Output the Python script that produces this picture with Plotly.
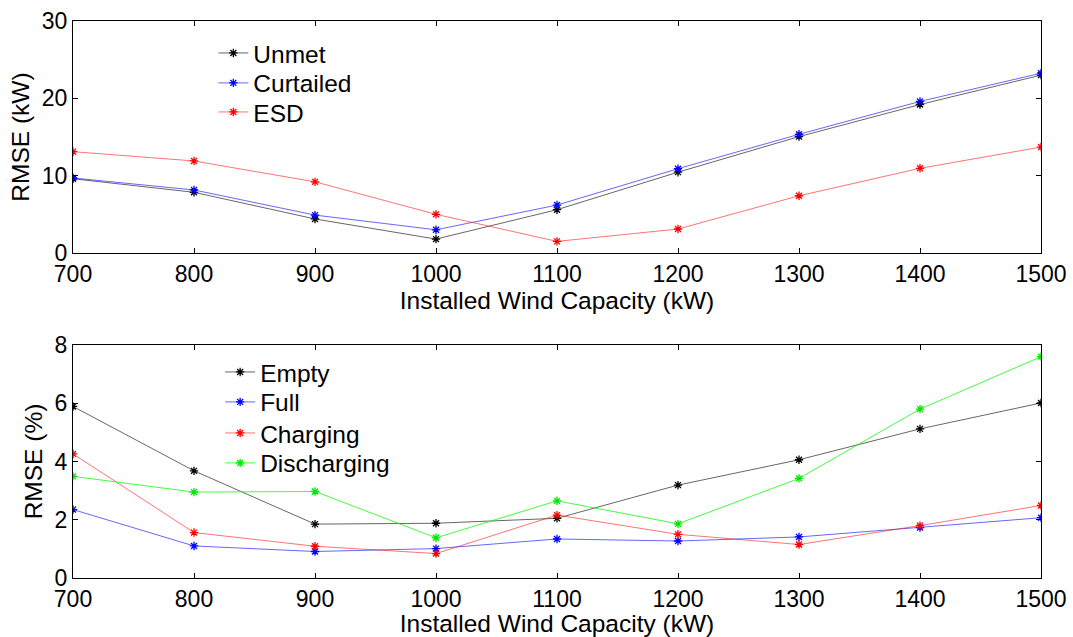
import plotly.graph_objects as go

# Installed wind capacity (kW)
capacity = [700, 800, 900, 1000, 1100, 1200, 1300, 1400, 1500]

# RMSE of power flows (kW)
unmet = [9.6, 7.85, 4.4, 1.8, 5.6, 10.45, 15.05, 19.2, 23.0]
curtailed = [9.7, 8.15, 4.9, 3.0, 6.2, 10.9, 15.35, 19.6, 23.25]
esd = [13.1, 11.9, 9.2, 5.0, 1.5, 3.1, 7.4, 10.95, 13.7]

# RMSE of storage states (%)
empty = [5.89, 3.68, 1.85, 1.88, 2.05, 3.19, 4.06, 5.12, 6.01]
full = [2.35, 1.10, 0.91, 1.01, 1.34, 1.27, 1.41, 1.73, 2.07]
charging = [4.26, 1.56, 1.09, 0.84, 2.16, 1.50, 1.15, 1.80, 2.49]
discharging = [3.49, 2.95, 2.97, 1.38, 2.65, 1.86, 3.42, 5.80, 7.60]

x_ticks = [700, 800, 900, 1000, 1100, 1200, 1300, 1400, 1500]

FONT = "Liberation Sans, Arial, sans-serif"
TICK_FS = 23
TEXT_FS = 24.5

colors = {
    "k": ("rgb(0,0,0)", "rgba(0,0,0,0.6)"),
    "b": ("rgb(0,0,255)", "rgba(0,0,255,0.6)"),
    "r": ("rgb(255,0,0)", "rgba(255,0,0,0.55)"),
    "g": ("rgb(0,230,0)", "rgba(0,255,0,0.75)"),
}

fig = go.Figure()
legends = {}


def add_series(name, values, c, xa, ya, legend, lx, ly):
    mk, ln = colors[c]
    fig.add_trace(go.Scatter(
        x=capacity, y=values, name=name, mode="lines+markers",
        line=dict(color=ln, width=1),
        marker=dict(symbol="asterisk-open", size=7, color=mk,
                    line=dict(color=mk, width=1.3)),
        xaxis=xa, yaxis=ya, legend=legend,
    ))
    # one legend box per entry so rows sit on a tight pitch
    legends[legend] = dict(
        x=lx, y=ly, xanchor="left", yanchor="middle",
        bgcolor="rgba(255,255,255,0)", borderwidth=0,
        font=dict(family=FONT, size=TEXT_FS, color="black"),
        itemwidth=30, tracegroupgap=0,
    )


add_series("Unmet", unmet, "k", "x", "y", "legend", 0.145, 0.9425)
add_series("Curtailed", curtailed, "b", "x", "y", "legend2", 0.145, 0.8887)
add_series("ESD", esd, "r", "x", "y", "legend3", 0.145, 0.8366)

add_series("Empty", empty, "k", "x2", "y2", "legend4", 0.152, 0.3698)
add_series("Full", full, "b", "x2", "y2", "legend5", 0.152, 0.3160)
add_series("Charging", charging, "r", "x2", "y2", "legend6", 0.152, 0.2603)
add_series("Discharging", discharging, "g", "x2", "y2", "legend7", 0.152, 0.2065)

axis_common = dict(
    showline=True, linecolor="black", linewidth=1, mirror="ticks",
    ticks="inside", ticklen=5, tickcolor="black", tickwidth=1,
    showgrid=False, zeroline=False,
    tickfont=dict(family=FONT, size=TICK_FS, color="black"),
)

xtitle = dict(text="Installed Wind Capacity (kW)",
              font=dict(family=FONT, size=TEXT_FS, color="black"), standoff=3)

fig.update_layout(
    width=1073, height=637,
    margin=dict(l=73, r=32, t=21, b=59, autoexpand=False),
    paper_bgcolor="white", plot_bgcolor="white",
    showlegend=True,
    xaxis=dict(domain=[0, 1], range=[700, 1500], tickvals=x_ticks,
               anchor="y", title=xtitle, **axis_common),
    yaxis=dict(domain=[0.5835, 1], range=[0, 30], tickvals=[0, 10, 20, 30],
               anchor="x",
               title=dict(text="RMSE (kW)",
                          font=dict(family=FONT, size=TEXT_FS, color="black"),
                          standoff=5),
               **axis_common),
    xaxis2=dict(domain=[0, 1], range=[700, 1500], tickvals=x_ticks,
                anchor="y2", title=xtitle, **axis_common),
    yaxis2=dict(domain=[0, 0.4183], range=[0, 8], tickvals=[0, 2, 4, 6, 8],
                anchor="x2",
                title=dict(text="RMSE (%)",
                           font=dict(family=FONT, size=TEXT_FS, color="black"),
                           standoff=5),
                **axis_common),
    **legends,
)

fig.write_html("out.html")
